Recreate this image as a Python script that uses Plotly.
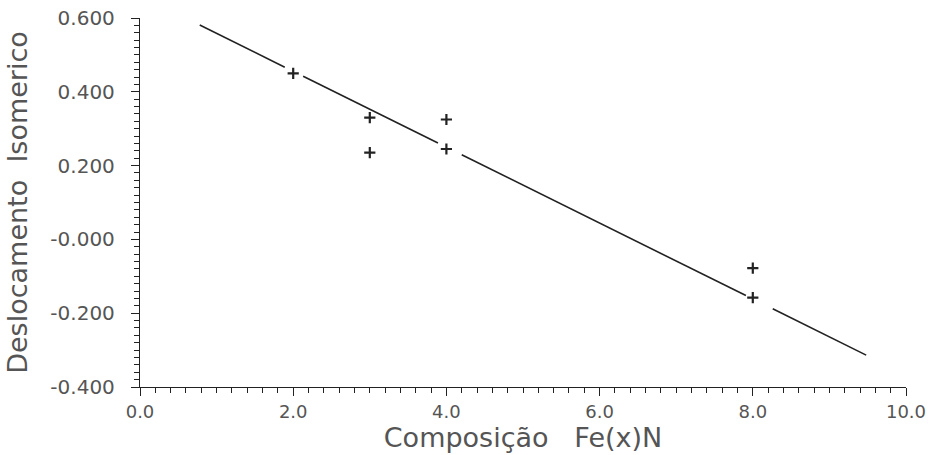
import plotly.graph_objects as go

# Measured isomer shift vs. Fe(x)N composition
comp_x = [2.0, 3.0, 3.0, 4.0, 4.0, 8.0, 8.0]
shift_y = [0.450, 0.330, 0.235, 0.325, 0.245, -0.078, -0.158]

# Linear fit: shift = intercept + slope * x
fit_slope = -0.1028
fit_intercept = 0.661
# Drawn spans of the fit line (broken where it crosses the markers)
fit_spans = [(0.78, 1.89), (2.13, 3.89), (4.20, 7.91), (8.26, 9.48)]

x_ticks = [0, 2, 4, 6, 8, 10]
x_ticktext = ["0.0", "2.0", "4.0", "6.0", "8.0", "10.0"]
y_ticks = [0.6, 0.4, 0.2, 0.0, -0.2, -0.4]
y_ticktext = ["0.600", "0.400", "0.200", "-0.000", "-0.200", "-0.400"]

ink = "#222222"
text_col = "#555555"
font_family = "DejaVu Sans"

fit_x, fit_y = [], []
for a, b in fit_spans:
    fit_x += [a, b, None]
    fit_y += [fit_intercept + fit_slope * a, fit_intercept + fit_slope * b, None]

fig = go.Figure()
fig.add_trace(go.Scatter(
    x=fit_x, y=fit_y, mode="lines",
    line=dict(color=ink, width=1.6), hoverinfo="skip", showlegend=False,
))
fig.add_trace(go.Scatter(
    x=comp_x, y=shift_y, mode="markers",
    marker=dict(symbol="cross-thin", size=8, line=dict(color=ink, width=2.2)),
    showlegend=False,
))

axis_common = dict(
    showgrid=False, zeroline=False, showline=True, linecolor=ink, linewidth=1.3,
    ticks="outside", ticklen=8, tickwidth=1.2, tickcolor=ink,
    automargin=False,
)

fig.update_xaxes(
    range=[0, 10], tickvals=x_ticks, ticktext=x_ticktext,
    tickfont=dict(family=font_family, size=18, color=text_col),
    ticklabelstandoff=0,
    minor=dict(tickmode="linear", tick0=0, dtick=0.2, ticks="outside",
               ticklen=5, tickwidth=1, tickcolor=ink),
    title=dict(text="Composição\u00a0\u00a0\u00a0Fe(x)N",
               font=dict(family=font_family, size=27, color=text_col), standoff=6),
    **axis_common,
)
fig.update_yaxes(
    range=[-0.4, 0.6], tickvals=y_ticks, ticktext=y_ticktext,
    tickfont=dict(family=font_family, size=20, color=text_col),
    ticklabelstandoff=12,
    minor=dict(tickmode="linear", tick0=0, dtick=0.02, ticks="outside",
               ticklen=5, tickwidth=1, tickcolor=ink),
    title=dict(text="Deslocamento\u00a0\u00a0Isomerico",
               font=dict(family=font_family, size=27, color=text_col), standoff=14),
    **axis_common,
)

fig.update_layout(
    width=931, height=455,
    margin=dict(l=140, r=25, t=18, b=68),
    paper_bgcolor="white", plot_bgcolor="white",
)

fig.write_html("out.html")
